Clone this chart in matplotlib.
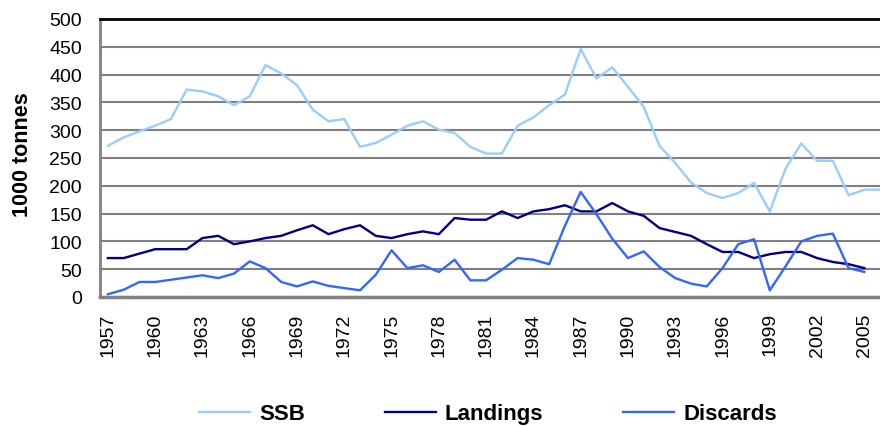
import matplotlib.pyplot as plt
import numpy as np

plt.rcParams['font.family'] = ['Liberation Sans', 'DejaVu Sans']

years = list(range(1957, 2007))
ssb = [272, 287, 298, 308, 320, 373, 370, 361, 345, 361, 417, 402, 381,
       337, 316, 320, 270, 277, 292, 308, 316, 301, 295, 270, 258,
       258, 308, 323, 345, 364, 446, 393, 413, 378, 342, 272, 241,
       206, 187, 178, 187, 205, 154, 231, 276, 245, 245, 183, 193, 193]
landings = [70, 70, 78, 86, 86, 86, 106, 110, 95, 100, 106, 110, 120,
            129, 113, 122, 129, 110, 106, 113, 118, 113, 142, 139, 139,
            154, 142, 154, 158, 165, 154, 154, 169, 154, 146, 124, 117,
            110, 95, 81, 81, 70, 77, 81, 81, 70, 63, 59, 52, None]
discards = [5, 13, 27, 27, 31, 35, 39, 34, 42, 64, 52, 27, 19,
            28, 20, 16, 12, 40, 84, 52, 57, 45, 67, 30, 30,
            49, 70, 67, 59, 128, 189, 149, 105, 70, 82, 54, 34,
            24, 19, 52, 95, 104, 12, 55, 100, 110, 114, 52, 45, None]

def arr(v):
    return np.array([np.nan if x is None else x for x in v], dtype=float)

fig = plt.figure(figsize=(8.8, 4.27), dpi=100)
ax = fig.add_axes([100 / 880, 129 / 427, 788 / 880, 278 / 427])

idx = np.arange(len(years))
ax.plot(idx, arr(ssb), color='#99CCFF', lw=1.7, label='SSB')
ax.plot(idx, arr(landings), color='#000080', lw=1.7, label='Landings')
ax.plot(idx, arr(discards), color='#3366FF', lw=1.7, label='Discards')

ax.set_xlim(-0.5, len(years) - 0.5)
ax.set_ylim(0, 500)
ax.set_yticks(range(0, 501, 50))
ax.set_xticks(idx[::3])
ax.set_xticklabels([str(y) for y in years[::3]], rotation=90)
ax.tick_params(axis='both', length=0, labelsize=14)
ax.tick_params(axis='y', pad=13)
ax.tick_params(axis='x', pad=11)

ax.grid(axis='y', color='#808080', lw=1.5)
ax.set_axisbelow(True)
ax.spines['top'].set_color('black')
ax.spines['top'].set_linewidth(2)
ax.spines['left'].set_color('#808080')
ax.spines['left'].set_linewidth(2)
ax.spines['bottom'].set_color('#808080')
ax.spines['bottom'].set_linewidth(2.5)
ax.spines['right'].set_visible(False)

fig.text(22 / 880, 1 - 155 / 427, '1000 tonnes', rotation=90, fontsize=15.5,
         fontweight='bold', ha='center', va='center')

fig.legend(loc='center', bbox_to_anchor=(488 / 880, 12 / 427), ncol=3,
           frameon=False, prop={'size': 16, 'weight': 'bold'},
           handlelength=2.3, handletextpad=0.4, columnspacing=3.6)

fig.savefig('out.png', dpi=100)
